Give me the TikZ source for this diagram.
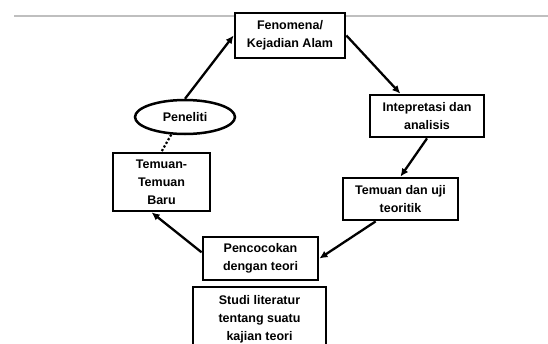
\documentclass[tikz,border=0pt]{standalone}
\usepackage{fontspec}
\setmainfont{Liberation Sans}
\usetikzlibrary{positioning,arrows.meta,shapes}

\begin{document}
\begin{tikzpicture}[
            x=1pt, y=-1pt,
            box/.style={draw, line width=2.8pt, fill=white, align=center,
                font=\bfseries\fontsize{12.5}{18}\selectfont, inner sep=2pt},
            flow/.style={draw, line width=2.3pt, -{Latex[length=8pt,width=7.5pt]}},
            >=latex
        ]
        \clip (0,0) rectangle (548,343);
        \draw[gray!50, line width=2pt] (14,16) -- (548,16);
        \node[box, minimum width=110pt, minimum height=45pt] (fenomena) at (290,35.5) {Fenomena/\\Kejadian Alam};
        \node[box, minimum width=114pt, minimum height=42pt] (interp) at (427,116) {Intepretasi dan\\analisis};
        \node[box, minimum width=115pt, minimum height=42pt] (uji) at (400.5,199) {Temuan dan uji\\teoritik};
        \node[box, minimum width=115pt, minimum height=43pt] (cocok) at (260.5,258.5) {Pencocokan\\dengan teori};
        \node[box, minimum width=133pt, minimum height=64pt] (studi) at (259.5,319) {Studi literatur\\tentang suatu\\kajian teori};
        \node[box, minimum width=97pt, minimum height=58pt] (baru) at (161.5,182) {Temuan-\\Temuan\\Baru};
        \node[box, ellipse, line width=2.5pt, minimum width=100pt, minimum height=34pt, inner sep=0pt] (peneliti) at (185,117) {Peneliti};
        \draw[flow] (peneliti.north) -- (fenomena.west);
        \draw[flow] (fenomena.east) -- (interp.140);
        \draw[flow] (interp.south) -- (uji.north);
        \draw[flow] (uji.222) -- (cocok.east);
        \draw[flow] (cocok.174) -- (baru.252);
        \draw[line width=2.2pt, dotted] (peneliti.232) -- (baru.north);
        \end{tikzpicture}
\end{document}
